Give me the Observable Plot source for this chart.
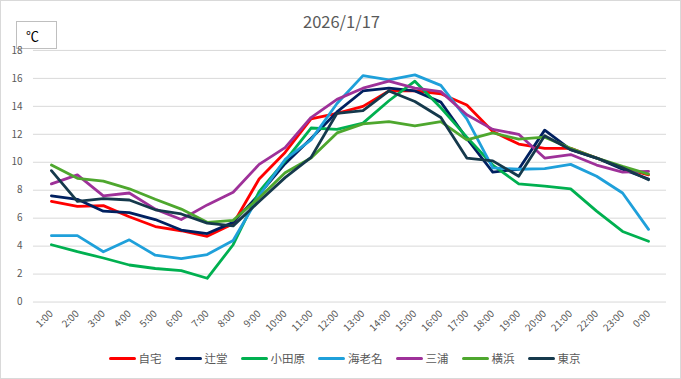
<!DOCTYPE html>
<html>
<head>
<meta charset="utf-8">
<script src="https://cdn.jsdelivr.net/npm/d3@7"></script>
<script src="https://cdn.jsdelivr.net/npm/@observablehq/plot@0.6"></script>
<style>
  body { margin: 0; background: #fff; }
  #chart { position: relative; width: 681px; height: 379px; box-sizing: border-box; border: 1px solid #d9d9d9; background: #fff; overflow: hidden; font-family: "Noto Sans CJK JP", "Noto Sans", sans-serif; }
  #title { position: absolute; left: 0; top: 8px; width: 681px; text-align: center; font-size: 16.5px; color: #595959; }
  #unit { position: absolute; left: 15px; top: 20px; width: 41px; height: 28px; box-sizing: border-box; border: 1px solid #bfbfbf; font-size: 13px; color: #000; padding: 4px 0 0 9px; }
  #plot { position: absolute; left: -1px; top: -1px; }
  #legend { position: absolute; left: 3px; top: 349px; width: 681px; display: flex; justify-content: center; gap: 13px; font-size: 11.5px; color: #595959; }
  .item { display: flex; align-items: center; gap: 3px; }
  .swatch { width: 27px; height: 3px; border-radius: 1.5px; }
</style>
</head>
<body>
<div id="chart">
  <div id="unit">℃</div>
  <div id="title">2026/1/17</div>
  <div id="plot"></div>
  <div id="legend"></div>
</div>
<script>
const hours = ["1:00","2:00","3:00","4:00","5:00","6:00","7:00","8:00","9:00","10:00","11:00","12:00","13:00","14:00","15:00","16:00","17:00","18:00","19:00","20:00","21:00","22:00","23:00","0:00"];
const seriesNames = ["自宅","辻堂","小田原","海老名","三浦","横浜","東京"];
const jitaku   = [7.2, 6.85, 6.9, 6.1, 5.4, 5.1, 4.7, 5.6, 8.8, 10.7, 13.1, 13.5, 14.0, 15.1, 15.1, 14.9, 14.1, 12.2, 11.3, 11.0, 11.0, 10.3, 9.6, 9.1];
const tsujido  = [7.6, 7.35, 6.5, 6.4, 5.9, 5.15, 4.9, 5.7, 7.7, 9.9, 11.7, 13.6, 15.1, 15.3, 15.1, 14.3, 11.7, 9.3, 9.5, 12.3, 10.9, 10.3, 9.5, 8.8];
const odawara  = [4.1, 3.6, 3.15, 2.65, 2.4, 2.25, 1.7, 4.1, 7.9, 10.1, 12.45, 12.35, 12.8, 14.4, 15.8, 13.9, 11.8, 9.8, 8.45, 8.3, 8.1, 6.5, 5.05, 4.35];
const ebina    = [4.75, 4.75, 3.6, 4.45, 3.35, 3.1, 3.4, 4.4, 7.6, 10.2, 11.6, 14.2, 16.2, 15.9, 16.25, 15.5, 13.1, 9.6, 9.5, 9.55, 9.85, 9.0, 7.8, 5.2];
const miura    = [8.45, 9.1, 7.6, 7.8, 6.65, 5.9, 6.95, 7.85, 9.85, 11.05, 13.2, 14.5, 15.3, 15.8, 15.3, 15.05, 13.4, 12.35, 12.0, 10.3, 10.55, 9.8, 9.3, 9.35];
const yokohama = [9.8, 8.85, 8.65, 8.1, 7.35, 6.65, 5.7, 5.85, 7.45, 9.25, 10.3, 12.1, 12.75, 12.9, 12.6, 12.9, 11.6, 12.1, 11.65, 11.8, 11.0, 10.3, 9.7, 9.15];
const tokyo    = [9.4, 7.2, 7.4, 7.3, 6.6, 6.3, 5.65, 5.45, 7.2, 8.9, 10.35, 13.5, 13.7, 15.1, 14.35, 13.2, 10.3, 10.1, 9.0, 11.9, 10.9, 10.3, 9.6, 8.75];
const yTicks = [0, 2, 4, 6, 8, 10, 12, 14, 16, 18];
const colors = ["#ff0000", "#002060", "#00b050", "#1fa0da", "#9e3199", "#4ea72e", "#15394c"];

const seriesValues = [jitaku, tsujido, odawara, ebina, miura, yokohama, tokyo];
const data = seriesNames.flatMap((name, i) => hours.map((h, j) => ({hour: h, value: seriesValues[i][j], series: name})));

const chart = Plot.plot({
  width: 681,
  height: 345,
  marginTop: 50,
  marginBottom: 43,
  marginLeft: 33,
  marginRight: 14,
  x: {type: "point", domain: hours, label: null},
  y: {domain: [0, 18], label: null},
  color: {domain: seriesNames, range: colors},
  style: {fontFamily: "'Noto Sans CJK JP', 'Noto Sans', sans-serif", fontSize: "10px", color: "#595959", background: "transparent"},
  marks: [
    Plot.ruleY(yTicks, {stroke: "#d9d9d9", strokeWidth: 1}),
    Plot.axisY({ticks: yTicks, tickSize: 0, tickPadding: 11, label: null}),
    Plot.axisX({tickSize: 0, tickRotate: -45, tickPadding: 10, label: null}),
    Plot.line(data, {x: "hour", y: "value", z: "series", stroke: "series", strokeWidth: 2.8, strokeLinejoin: "round", strokeLinecap: "round"})
  ]
});
document.getElementById("plot").appendChild(chart);

const legend = document.getElementById("legend");
seriesNames.forEach((name, i) => {
  const item = document.createElement("div");
  item.className = "item";
  const sw = document.createElement("div");
  sw.className = "swatch";
  sw.style.background = colors[i];
  const t = document.createElement("span");
  t.textContent = name;
  item.appendChild(sw);
  item.appendChild(t);
  legend.appendChild(item);
});
</script>
</body>
</html>
